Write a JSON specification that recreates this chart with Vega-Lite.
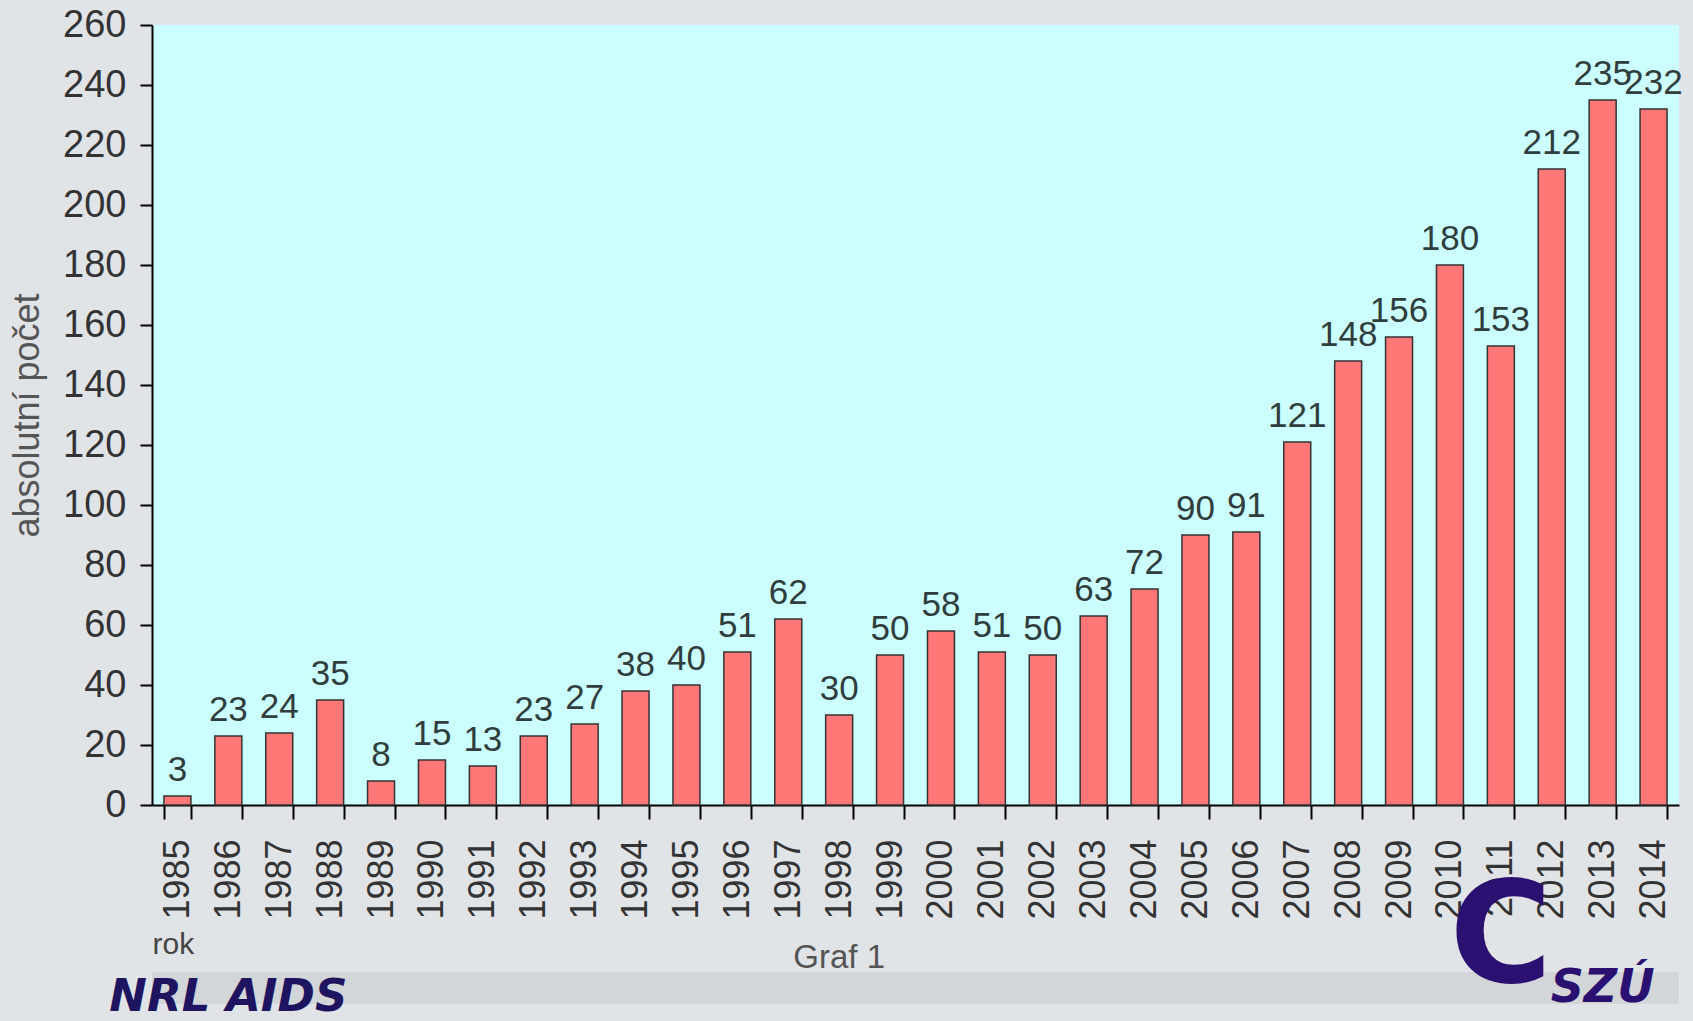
{
  "$schema": "https://vega.github.io/schema/vega-lite/v6.json",
  "autosize": {"type": "none"},
  "width": 1527,
  "height": 780,
  "padding": {"left": 152, "top": 25, "right": 14, "bottom": 216},
  "background": "#e1e4e7",
  "config": {
    "view": {"fill": "#ccffff", "stroke": null},
    "font": "Liberation Sans Narrow, Liberation Sans, DejaVu Sans, sans-serif"
  },
  "datasets": {
    "bars": [
      {"rok": "1985", "pocet": 3}, {"rok": "1986", "pocet": 23}, {"rok": "1987", "pocet": 24},
      {"rok": "1988", "pocet": 35}, {"rok": "1989", "pocet": 8}, {"rok": "1990", "pocet": 15},
      {"rok": "1991", "pocet": 13}, {"rok": "1992", "pocet": 23}, {"rok": "1993", "pocet": 27},
      {"rok": "1994", "pocet": 38}, {"rok": "1995", "pocet": 40}, {"rok": "1996", "pocet": 51},
      {"rok": "1997", "pocet": 62}, {"rok": "1998", "pocet": 30}, {"rok": "1999", "pocet": 50},
      {"rok": "2000", "pocet": 58}, {"rok": "2001", "pocet": 51}, {"rok": "2002", "pocet": 50},
      {"rok": "2003", "pocet": 63}, {"rok": "2004", "pocet": 72}, {"rok": "2005", "pocet": 90},
      {"rok": "2006", "pocet": 91}, {"rok": "2007", "pocet": 121}, {"rok": "2008", "pocet": 148},
      {"rok": "2009", "pocet": 156}, {"rok": "2010", "pocet": 180}, {"rok": "2011", "pocet": 153},
      {"rok": "2012", "pocet": 212}, {"rok": "2013", "pocet": 235}, {"rok": "2014", "pocet": 232}
    ],
    "graf": [{"t": "Graf 1"}],
    "nrl": [{"t": "NRL AIDS"}],
    "logoC": [{"t": "C"}],
    "szu": [{"t": "SZÚ"}],
    "band": [{"t": "band"}]
  },
  "layer": [
    {
      "data": {"name": "band"},
      "mark": {"type": "rule", "color": "#d3d6d9", "strokeWidth": 32},
      "encoding": {"y": {"datum": -61, "type": "quantitative"}}
    },
    {
      "data": {"name": "bars"},
      "mark": {"type": "bar", "color": "#ff7777", "stroke": "#333", "strokeWidth": 1.5},
      "encoding": {
        "x": {
          "field": "rok", "type": "ordinal",
          "scale": {"paddingInner": 0.47, "paddingOuter": 0.235},
          "axis": {
            "title": "rok", "titleAnchor": "start", "titleAlign": "left", "titlePadding": 10,
            "titleFontSize": 30, "titleFontWeight": "normal", "titleColor": "#444",
            "labelAngle": -90, "labelFontSize": 36, "labelColor": "#333", "labelPadding": 20,
            "tickBand": "extent", "tickSize": 14, "tickWidth": 2, "tickColor": "#000",
            "domainColor": "#000", "domainWidth": 2
          }
        },
        "y": {
          "field": "pocet", "type": "quantitative",
          "scale": {"domain": [0, 260], "nice": false},
          "axis": {
            "title": "absolutní počet", "titleFontSize": 36, "titleFontWeight": "normal",
            "titleColor": "#555", "titlePadding": 16,
            "values": [0, 20, 40, 60, 80, 100, 120, 140, 160, 180, 200, 220, 240, 260],
            "labelFontSize": 38, "labelColor": "#333", "labelPadding": 14,
            "tickSize": 12, "tickWidth": 2, "tickColor": "#000",
            "domainColor": "#000", "domainWidth": 2, "grid": false
          }
        }
      }
    },
    {
      "data": {"name": "bars"},
      "mark": {"type": "text", "baseline": "bottom", "dy": -8, "fontSize": 35, "color": "#2f3d3d"},
      "encoding": {
        "x": {"field": "rok", "type": "ordinal"},
        "y": {"field": "pocet", "type": "quantitative"},
        "text": {"field": "pocet", "type": "quantitative"}
      }
    },
    {
      "data": {"name": "graf"},
      "mark": {"type": "text", "fontSize": 33, "color": "#555", "baseline": "middle"},
      "encoding": {"x": {"datum": "1998", "type": "ordinal"}, "y": {"datum": -51, "type": "quantitative"}, "text": {"field": "t"}}
    },
    {
      "data": {"name": "nrl"},
      "mark": {"type": "text", "fontSize": 45, "fontWeight": "bold", "fontStyle": "italic", "color": "#1e1460", "baseline": "middle", "font": "DejaVu Sans"},
      "encoding": {"x": {"datum": "1986", "type": "ordinal"}, "y": {"datum": -64, "type": "quantitative"}, "text": {"field": "t"}}
    },
    {
      "data": {"name": "logoC"},
      "mark": {"type": "text", "fontSize": 140, "fontWeight": "bold", "color": "#2a1070", "baseline": "middle", "font": "DejaVu Sans"},
      "encoding": {"x": {"datum": "2011", "type": "ordinal"}, "y": {"datum": -45, "type": "quantitative"}, "text": {"field": "t"}}
    },
    {
      "data": {"name": "szu"},
      "mark": {"type": "text", "fontSize": 46, "fontWeight": "bold", "fontStyle": "italic", "color": "#2a1070", "baseline": "middle", "font": "DejaVu Sans"},
      "encoding": {"x": {"datum": "2013", "type": "ordinal"}, "y": {"datum": -61, "type": "quantitative"}, "text": {"field": "t"}}
    }
  ]
}
